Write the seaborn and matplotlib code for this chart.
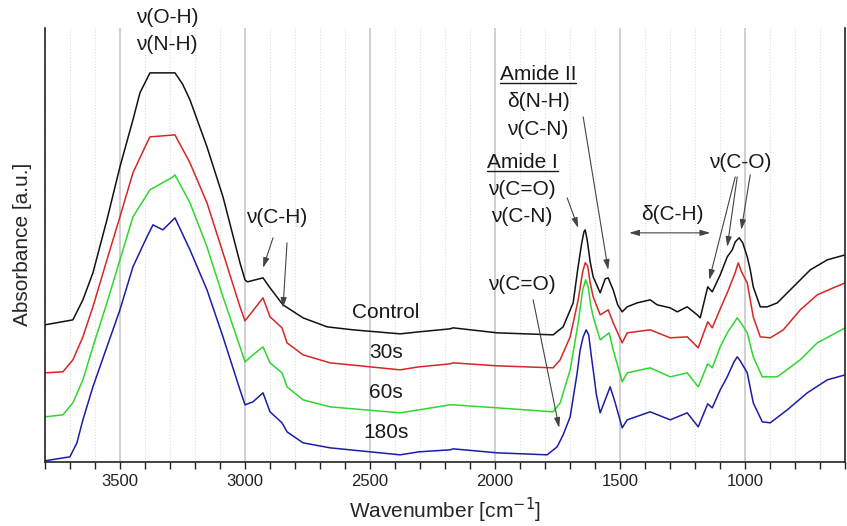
import matplotlib
matplotlib.use("Agg")
import matplotlib.pyplot as plt
from matplotlib.ticker import MultipleLocator
from matplotlib.lines import Line2D
import seaborn as sns
import pandas as pd

# FTIR spectra (absorbance in arbitrary, offset units)
wn_control = [3800, 3688, 3648, 3608, 3552, 3500, 3448, 3420, 3400, 3380, 3280, 3250, 3220,
              3152, 3088, 3020, 3000, 2990, 2928, 2900, 2848, 2768, 2672, 2568, 2380, 2304,
              2180, 2168, 1992, 1768, 1728, 1688, 1670, 1655, 1645, 1640, 1632, 1620, 1608,
              1580, 1560, 1548, 1528, 1510, 1492, 1472, 1432, 1380, 1352, 1300, 1272, 1232,
              1192, 1180, 1150, 1132, 1100, 1072, 1052, 1040, 1024, 1010, 992, 980, 968, 940,
              912, 872, 808, 740, 672, 600]
abs_control = [137, 142, 162, 189, 242, 295, 342, 369, 379, 389, 389, 378, 362,
               315, 265, 199, 182, 180, 184, 174, 157, 144, 135, 132, 128, 130,
               133, 134, 129, 127, 135, 159, 192, 217, 230, 232, 222, 200, 185,
               169, 183, 184, 172, 157, 150, 155, 159, 162, 157, 154, 150, 155,
               147, 144, 175, 170, 187, 205, 212, 220, 224, 219, 205, 192, 175, 155,
               155, 159, 175, 192, 202, 207]

wn_30s = [3800, 3728, 3688, 3648, 3608, 3552, 3500, 3448, 3392, 3380, 3280, 3220, 3152,
          3088, 3020, 3000, 2928, 2900, 2852, 2832, 2768, 2660, 2380, 2304, 2180, 2168,
          1992, 1768, 1740, 1700, 1668, 1650, 1640, 1630, 1620, 1608, 1580, 1548, 1528,
          1492, 1472, 1380, 1300, 1232, 1188, 1150, 1132, 1100, 1072, 1042, 1028, 1015,
          992, 968, 940, 900, 848, 780, 712, 648, 600]
abs_30s = [89, 90, 102, 125, 155, 202, 245, 289, 319, 325, 327, 299, 259,
           209, 155, 141, 164, 145, 134, 119, 107, 99, 92, 95, 98, 99,
           96, 94, 102, 125, 162, 190, 199, 196, 179, 165, 147, 152, 139,
           119, 129, 132, 124, 125, 114, 140, 134, 153, 169, 188, 199, 190,
           179, 145, 125, 124, 132, 152, 167, 174, 179]

wn_60s = [3800, 3728, 3688, 3648, 3608, 3552, 3500, 3448, 3380, 3288, 3280, 3220, 3152,
          3088, 3020, 3000, 2968, 2928, 2900, 2852, 2832, 2768, 2660, 2380, 2304, 2180,
          2168, 1992, 1768, 1740, 1700, 1668, 1650, 1638, 1628, 1618, 1608, 1580, 1544,
          1528, 1492, 1472, 1380, 1300, 1232, 1188, 1150, 1132, 1100, 1072, 1045, 1032,
          1020, 992, 968, 932, 872, 780, 712, 600]
abs_60s = [45, 47, 59, 82, 115, 159, 202, 245, 272, 285, 287, 259, 215,
           165, 115, 100, 107, 115, 99, 89, 75, 62, 55, 49, 52, 57,
           57, 54, 50, 59, 92, 139, 172, 182, 175, 157, 145, 122, 129,
           112, 80, 89, 94, 85, 89, 75, 98, 94, 115, 129, 139, 144,
           140, 129, 105, 85, 85, 102, 119, 134]

wn_180s = [3800, 3700, 3672, 3648, 3608, 3552, 3500, 3448, 3392, 3368, 3328, 3280, 3220,
           3152, 3088, 3020, 3000, 2968, 2928, 2900, 2852, 2832, 2768, 2660, 2380, 2304,
           2180, 2168, 1992, 1792, 1752, 1728, 1700, 1672, 1660, 1648, 1636, 1626, 1616,
           1608, 1595, 1580, 1540, 1520, 1492, 1472, 1380, 1300, 1232, 1188, 1150, 1132,
           1100, 1072, 1045, 1032, 1020, 992, 968, 932, 900, 832, 752, 672, 600]
abs_180s = [1, 5, 19, 42, 75, 115, 152, 195, 225, 237, 232, 244, 212,
            172, 125, 72, 57, 60, 69, 50, 39, 30, 19, 14, 7, 10,
            12, 13, 9, 7, 15, 27, 45, 89, 112, 125, 132, 127, 107,
            92, 67, 49, 75, 59, 34, 42, 50, 42, 49, 35, 58, 54,
            72, 85, 100, 105, 101, 89, 59, 40, 39, 52, 69, 82, 87]

series = ["Control", "30s", "60s", "180s"]
palette = {"Control": "#111111", "30s": "#d92525", "60s": "#2fd62f", "180s": "#1c1ca8"}

frames = []
for name, wn, ab in [("Control", wn_control, abs_control), ("30s", wn_30s, abs_30s),
                     ("60s", wn_60s, abs_60s), ("180s", wn_180s, abs_180s)]:
    frames.append(pd.DataFrame({"wavenumber": wn, "absorbance": ab, "sample": name}))
df = pd.concat(frames, ignore_index=True)

sns.set_style("white")
plt.rcParams["font.family"] = ["Liberation Sans", "DejaVu Sans"]

fig = plt.figure(figsize=(8.47, 5.26), dpi=100)
ax = fig.add_axes([0.053, 0.122, 0.945, 0.825])

sns.lineplot(data=df, x="wavenumber", y="absorbance", hue="sample", hue_order=series,
             palette=palette, estimator=None, sort=False, linewidth=1.1, legend=False, ax=ax)

ax.set_xlim(3800, 600)
ax.set_ylim(0, 434)
ax.xaxis.set_major_locator(MultipleLocator(500))
ax.xaxis.set_minor_locator(MultipleLocator(100))
ax.set_yticks([])
ax.grid(True, which="major", axis="x", color="#c8c8c8", linewidth=1.2)
ax.grid(True, which="minor", axis="x", color="#dddddd", linewidth=0.8, linestyle=":")
ax.set_axisbelow(True)
ax.tick_params(axis="x", which="both", direction="out", length=5, width=1, colors="#222222",
               labelsize=12, bottom=True)
ax.spines["top"].set_visible(False)
for s in ["left", "right", "bottom"]:
    ax.spines[s].set_color("#222222")
    ax.spines[s].set_linewidth(1.2)
ax.set_xlabel("Wavenumber [cm$^{-1}$]", fontsize=15, labelpad=5)
ax.set_ylabel("Absorbance [a.u.]", fontsize=15, labelpad=9)

fs = 15
txt = dict(fontsize=fs, ha="center", va="center", color="#1a1a1a")
arrow = dict(arrowstyle="-|>,head_length=0.6,head_width=0.18", color="#444444", lw=0.8,
             shrinkA=0, shrinkB=0)

ax.text(3312, 444, "ν(O-H)", **txt)
ax.text(3312, 417, "ν(N-H)", **txt)

ax.text(2872, 244, "ν(C-H)", **txt)
ax.annotate("", xy=(2928, 194), xytext=(2888, 224), arrowprops=arrow)
ax.annotate("", xy=(2848, 154), xytext=(2832, 219), arrowprops=arrow)

for name, y in zip(series, [149, 109, 69, 29]):
    ax.text(2436, y, name, **txt)

t_am2 = ax.text(1828, 387, "Amide II", **txt)
ax.text(1828, 360, "δ(N-H)", **txt)
ax.text(1828, 332, "ν(C-N)", **txt)
ax.annotate("", xy=(1548, 192), xytext=(1648, 345), arrowprops=arrow)

t_am1 = ax.text(1892, 299, "Amide I", **txt)
ax.text(1892, 272, "ν(C=O)", **txt)
ax.text(1892, 245, "ν(C-N)", **txt)
ax.annotate("", xy=(1668, 234), xytext=(1712, 264), arrowprops=arrow)

ax.text(1292, 247, "δ(C-H)", **txt)
ax.annotate("", xy=(1140, 229), xytext=(1464, 229),
            arrowprops=dict(arrowstyle="<|-|>,head_length=0.6,head_width=0.18",
                            color="#444444", lw=0.8, shrinkA=0, shrinkB=0))

ax.text(1020, 299, "ν(C-O)", **txt)
ax.annotate("", xy=(1144, 182), xytext=(1040, 285), arrowprops=arrow)
ax.annotate("", xy=(1072, 215), xytext=(1032, 285), arrowprops=arrow)
ax.annotate("", xy=(1016, 232), xytext=(980, 287), arrowprops=arrow)

ax.text(1892, 177, "ν(C=O)", **txt)
ax.annotate("", xy=(1744, 34), xytext=(1848, 162), arrowprops=arrow)

# underline the "Amide" headings
fig.canvas.draw()
inv = fig.transFigure.inverted()
for t in [t_am2, t_am1]:
    bb = t.get_window_extent().transformed(inv)
    fig.add_artist(Line2D([bb.x0, bb.x1], [bb.y0 + 0.002, bb.y0 + 0.002],
                          transform=fig.transFigure, color="#1a1a1a", lw=1.0))

fig.savefig("out.png", dpi=100, facecolor="white")
